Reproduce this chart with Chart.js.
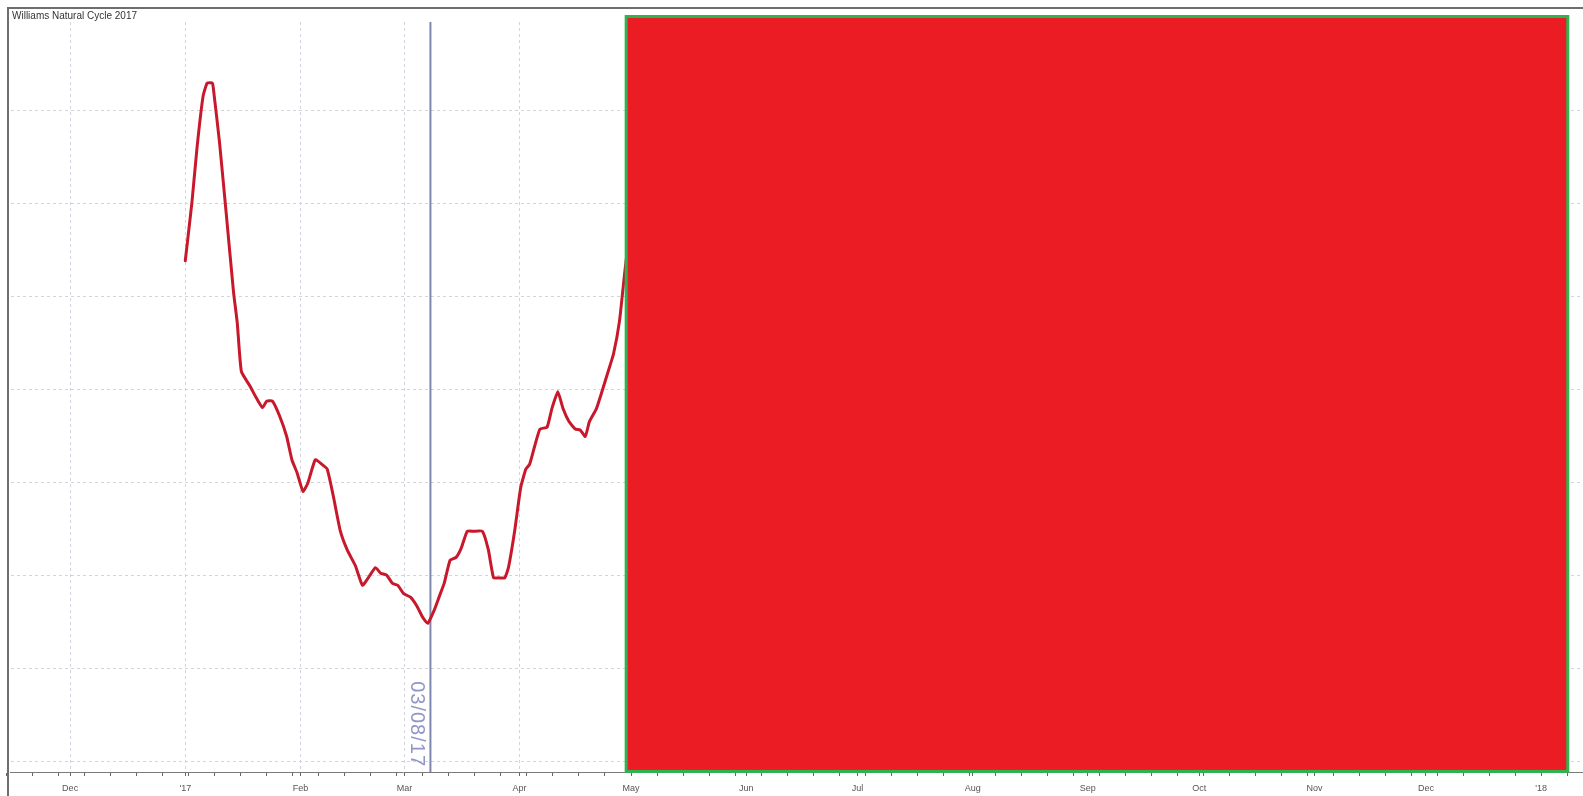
<!DOCTYPE html>
<html>
<head>
<meta charset="utf-8">
<title>Williams Natural Cycle 2017</title>
<script src="https://cdn.jsdelivr.net/npm/chart.js@4.4.1/dist/chart.umd.min.js"></script>
<style>
  html, body { margin: 0; padding: 0; background: #fff; }
  canvas { display: block; }
</style>
</head>
<body>
<canvas id="myChart" width="1583" height="796"></canvas>
<script>
// days counted from 1 Jan 2017
const cycleDays = [0, 1.8, 3.2, 4.8, 5.9, 7.3, 7.8, 9.2, 11.0, 13.0, 14.0, 15.1, 17.3, 19.2, 20.8, 21.9, 23.5, 25.4, 27.3, 28.7,
  30.1, 31.7, 33.0, 35.0, 36.8, 38.2, 39.8, 41.7, 43.6, 45.8, 47.7, 49.1, 51.2, 52.6, 54.2, 55.8, 57.2, 58.8, 60.7, 62.3,
  64.0, 65.3, 67.0, 68.3, 69.7, 71.3, 72.9, 74.3, 75.9, 77.6, 80.0, 81.6, 83.0, 84.3, 86.0, 87.0, 88.7, 90.3, 91.7, 92.7,
  94.1, 95.5, 97.4, 98.7, 100.3, 101.7, 103.3, 105.0, 106.3, 107.7, 108.8, 110.7, 112.0, 113.7, 115.3, 116.9, 118.3, 119.1];
const cycleValues = [53.9, 60.2, 66.2, 71.6, 73.0, 73.0, 71.6, 66.7, 59.1, 50.5, 47.2, 42.0, 40.5, 39.1, 38.1, 38.8, 38.8, 37.2, 35.0, 32.5,
  31.1, 29.1, 30.0, 32.5, 32.0, 31.5, 28.7, 24.9, 22.8, 21.1, 19.0, 19.7, 20.9, 20.3, 20.1, 19.2, 19.0, 18.1, 17.7, 16.8,
  15.5, 14.9, 16.3, 17.7, 19.2, 21.7, 22.0, 23.0, 24.8, 24.8, 24.8, 22.8, 19.8, 19.8, 19.8, 20.9, 24.9, 29.5, 31.5, 32.0,
  34.0, 35.8, 36.0, 38.0, 39.8, 38.0, 36.6, 35.8, 35.7, 35.0, 36.6, 38.0, 39.6, 41.8, 43.9, 47.4, 52.6, 55.3];

const monthDays = [-31, 0, 31, 59, 90, 120, 151, 181, 212, 243, 273, 304, 334, 365];
const monthLabels = ['Dec', "'17", 'Feb', 'Mar', 'Apr', 'May', 'Jun', 'Jul', 'Aug', 'Sep', 'Oct', 'Nov', 'Dec', "'18"];
const yGrid = [0, 10, 20, 30, 40, 50, 60, 70];

const chartTitle = 'Williams Natural Cycle 2017';
const markerDay = 66;
const markerLabel = '03/08/17';

// covered block (days / value units)
const maskDays = [118.7, 372.2];
const maskValues = [-1.02, 80.16];

let ticksX = monthDays.slice();
for (let d = -48; d < 377; d += 7) {
  if (!ticksX.includes(d)) ticksX.push(d);
}
ticksX.sort((a, b) => a - b);

const points = cycleDays.map((d, i) => ({ x: d, y: cycleValues[i] }));

// frame + title strip
const frame = {
  id: 'frame',
  afterDraw(chart) {
    const c = chart.ctx;
    c.save();
    c.strokeStyle = '#6e6e6e';
    c.lineWidth = 2;
    c.beginPath();
    c.moveTo(8, chart.height);
    c.lineTo(8, 8);
    c.lineTo(chart.width, 8);
    c.stroke();
    c.font = '10px "Liberation Sans", Arial, sans-serif';
    c.fillStyle = '#333';
    c.textBaseline = 'middle';
    c.fillText(chartTitle, 12, 16);
    c.restore();
  }
};

const marker = {
  id: 'marker',
  beforeDatasetsDraw(chart) {
    const c = chart.ctx;
    const area = chart.chartArea;
    const x = chart.scales.x.getPixelForValue(markerDay);
    c.save();
    c.strokeStyle = '#7d87ae';
    c.lineWidth = 2;
    c.beginPath();
    c.moveTo(x, area.top);
    c.lineTo(x, area.bottom);
    c.stroke();
    c.translate(x - 14, area.bottom - 5);
    c.rotate(Math.PI / 2);
    c.font = '20px "Liberation Sans", Arial, sans-serif';
    c.letterSpacing = '1px';
    c.fillStyle = '#9096c6';
    c.textAlign = 'right';
    c.textBaseline = 'middle';
    c.fillText(markerLabel, 0, 0);
    c.restore();
  }
};

const mask = {
  id: 'mask',
  afterDatasetsDraw(chart) {
    const c = chart.ctx;
    const sx = chart.scales.x, sy = chart.scales.y;
    const x1 = sx.getPixelForValue(maskDays[0]);
    const x2 = sx.getPixelForValue(maskDays[1]);
    const y1 = sy.getPixelForValue(maskValues[1]);
    const y2 = sy.getPixelForValue(maskValues[0]);
    c.save();
    c.fillStyle = '#ec1c24';
    c.fillRect(x1, y1, x2 - x1, y2 - y1);
    c.strokeStyle = '#2fb350';
    c.lineWidth = 3;
    c.strokeRect(x1, y1, x2 - x1, y2 - y1);
    c.restore();
  }
};

let ctx = document.getElementById('myChart');

let myChart = new Chart(ctx, {
  type: 'line',
  data: {
    datasets: [{
      label: 'Williams Natural Cycle',
      data: points,
      borderColor: 'rgb(200, 24, 44)',
      borderWidth: 3,
      borderJoinStyle: 'round',
      borderCapStyle: 'round',
      pointRadius: 0,
      tension: 0.15,
      fill: false
    }]
  },
  options: {
    responsive: false,
    animation: false,
    layout: {
      padding: { left: 8, top: 22, right: 0, bottom: 0 }
    },
    scales: {
      x: {
        type: 'linear',
        min: -47.04,
        max: 376.3,
        afterBuildTicks: (scale) => {
          scale.ticks = ticksX.map(v => ({ value: v }));
        },
        afterFit: (scale) => { scale.height = 24; },
        ticks: {
          autoSkip: false,
          maxRotation: 0,
          padding: 7,
          color: '#555',
          font: { size: 9, family: '"Liberation Sans", Arial, sans-serif' },
          callback: (v) => {
            const i = monthDays.indexOf(v);
            return i >= 0 ? monthLabels[i] : '';
          }
        },
        grid: {
          color: (c) => (c.tick && monthDays.includes(c.tick.value)) ? '#d2d3dc' : 'rgba(0,0,0,0)',
          tickColor: '#666',
          tickLength: 4,
          lineWidth: 1
        },
        border: {
          display: true,
          color: '#7a7a7a',
          width: 1,
          dash: [3, 3]
        }
      },
      y: {
        type: 'linear',
        min: -1.08,
        max: 79.57,
        afterBuildTicks: (scale) => {
          scale.ticks = yGrid.map(v => ({ value: v }));
        },
        afterFit: (scale) => { scale.width = 0; },
        ticks: { display: false },
        grid: {
          color: '#d2d3dc',
          drawTicks: false,
          lineWidth: 1
        },
        border: {
          display: false,
          dash: [3, 3]
        }
      }
    },
    plugins: {
      legend: { display: false },
      tooltip: { enabled: false }
    }
  },
  plugins: [marker, mask, frame]
});
</script>
</body>
</html>
